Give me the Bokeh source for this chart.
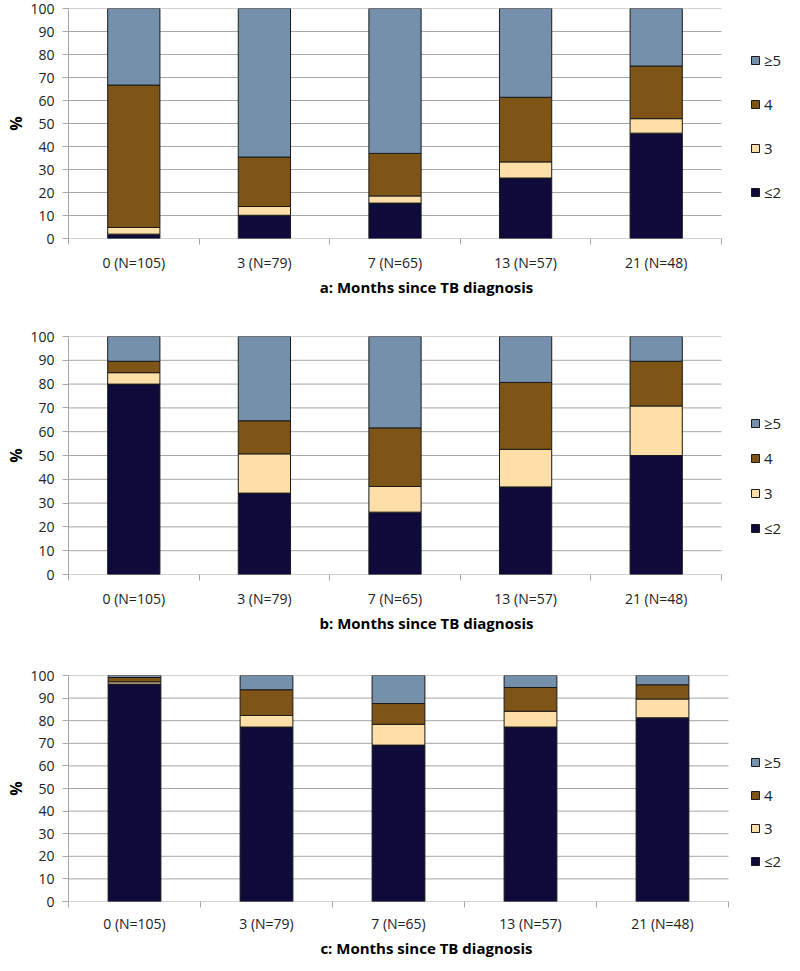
from bokeh.plotting import figure
from bokeh.models import ColumnDataSource, FixedTicker, Legend, LegendItem
from bokeh.layouts import column
from bokeh.embed import file_html
from bokeh.resources import INLINE

categories = ["0 (N=105)", "3 (N=79)", "7 (N=65)", "13 (N=57)", "21 (N=48)"]
series_labels = ["≤2", "3", "4", "≥5"]
series_keys = ["le2", "three", "four", "ge5"]
colors = ["#0E0B3B", "#FFDFA8", "#7E5517", "#7590AA"]

# Panel a
a_le2 = [1.9, 10.1, 15.4, 26.3, 45.8]
a_3 = [2.9, 3.8, 3.1, 7.0, 6.3]
a_4 = [61.9, 21.5, 18.5, 28.1, 22.9]
a_ge5 = [33.3, 64.6, 63.0, 38.6, 25.0]

# Panel b
b_le2 = [80.0, 34.2, 26.2, 36.8, 50.0]
b_3 = [4.8, 16.5, 10.8, 15.8, 20.8]
b_4 = [4.8, 13.9, 24.6, 28.1, 18.8]
b_ge5 = [10.4, 35.4, 38.4, 19.3, 10.4]

# Panel c
c_le2 = [96.2, 77.2, 69.2, 77.2, 81.3]
c_3 = [1.0, 5.1, 9.2, 7.0, 8.3]
c_4 = [1.9, 11.4, 9.2, 10.5, 6.3]
c_ge5 = [0.9, 6.3, 12.4, 5.3, 4.1]

y_ticks = [0, 10, 20, 30, 40, 50, 60, 70, 80, 90, 100]

FONT = "Open Sans"
GRID = "#A6A6A6"
FIG_W = 784
BORDER_L = 68


def make_panel(le2, t3, t4, ge5, title, height, btop, bbottom, cat_px,
               spacing, leg_x, leg_y, label_standoff, title_standoff):
    n = len(categories)
    xs = [i + 0.5 for i in range(n)]
    frame_w = FIG_W - BORDER_L
    x_end = n * frame_w / cat_px
    src = ColumnDataSource(dict(x=xs, le2=le2, three=t3, four=t4, ge5=ge5))
    p = figure(width=FIG_W, height=height, output_backend="svg",
               toolbar_location=None, x_range=(0, x_end),
               y_range=(0, 100), min_border_left=BORDER_L, min_border_right=0,
               min_border_top=btop, min_border_bottom=bbottom,
               outline_line_color=None, background_fill_color="white")
    # horizontal gridlines spanning only the category area
    p.segment(x0=[0] * len(y_ticks), x1=[n] * len(y_ticks), y0=y_ticks,
              y1=y_ticks, line_color=GRID, line_width=1)
    rends = p.vbar_stack(series_keys, x="x", width=0.4, source=src,
                         color=colors, line_color="#1a1a1a", line_width=1)
    p.xgrid.visible = False
    p.ygrid.visible = False

    xa = p.xaxis[0]
    xa.ticker = FixedTicker(ticks=xs, minor_ticks=list(range(n + 1)))
    xa.major_label_overrides = {x: c for x, c in zip(xs, categories)}
    xa.major_tick_out = 0
    xa.major_tick_in = 0
    xa.minor_tick_out = 6
    xa.minor_tick_in = 0
    xa.minor_tick_line_color = GRID
    xa.axis_line_color = None
    xa.major_label_text_font = FONT
    xa.major_label_text_font_size = "14px"
    xa.major_label_text_color = "#222222"
    xa.major_label_standoff = label_standoff
    xa.axis_label = title
    xa.axis_label_text_font = FONT
    xa.axis_label_text_font_size = "15px"
    xa.axis_label_text_font_style = "bold"
    xa.axis_label_text_color = "#000000"
    xa.axis_label_standoff = title_standoff

    ya = p.yaxis[0]
    ya.ticker = FixedTicker(ticks=y_ticks)
    ya.minor_tick_line_color = None
    ya.major_tick_out = 6
    ya.major_tick_in = 0
    ya.major_tick_line_color = GRID
    ya.axis_line_color = GRID
    ya.major_label_text_font = FONT
    ya.major_label_text_font_size = "14px"
    ya.major_label_text_color = "#222222"
    ya.major_label_standoff = 8
    ya.axis_label = "%"
    ya.axis_label_text_font = FONT
    ya.axis_label_text_font_size = "16px"
    ya.axis_label_text_font_style = "bold"
    ya.axis_label_text_color = "#000000"
    ya.axis_label_standoff = 0

    items = [LegendItem(label=lab, renderers=[r])
             for lab, r in zip(series_labels, rends)][::-1]
    leg = Legend(items=items, location=(leg_x, leg_y), glyph_width=10,
                 glyph_height=10, label_text_font=FONT,
                 label_text_font_size="15px", label_text_color="#222222",
                 label_height=22, spacing=spacing, padding=0, margin=0,
                 label_standoff=4, border_line_color=None,
                 background_fill_alpha=0)
    p.add_layout(leg, "center")
    return p


pa = make_panel(a_le2, a_3, a_4, a_ge5, "a: Months since TB diagnosis",
                299, 8, 61, 653, 22, 682, 35, 8, 2)
pb = make_panel(b_le2, b_3, b_4, b_ge5, "b: Months since TB diagnosis",
                336, 37, 61, 653, 13, 682, 35, 8, 2)
pc = make_panel(c_le2, c_3, c_4, c_ge5, "c: Months since TB diagnosis",
                325, 40, 58, 660, 11, 682, 29, 6, 2)

layout = column(pa, pb, pc, spacing=0)
open("out.html", "w").write(file_html(layout, INLINE))
